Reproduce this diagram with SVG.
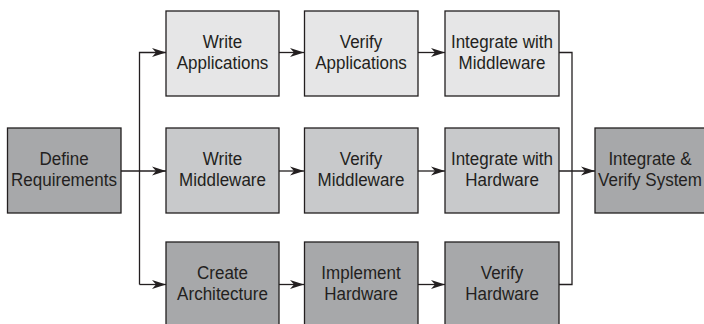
<svg xmlns="http://www.w3.org/2000/svg" width="704" height="324" viewBox="0 0 704 324">
<defs>
<style>
.box{stroke:#231f20;stroke-width:1.3}
.l1{fill:#e6e6e7}.l2{fill:#c8c9cb}.l3{fill:#a7a8aa}
text{font-family:"Liberation Sans",Arial,sans-serif;font-size:18.5px;fill:#231f20;text-anchor:middle}
.c{fill:none;stroke:#231f20;stroke-width:1.3}
</style>
<marker id="ah" markerWidth="15" markerHeight="11" refX="14" refY="5.5" orient="auto" markerUnits="userSpaceOnUse">
<path d="M0,1 L14,5.5 L0,10 L4,5.5 Z" fill="#231f20"/>
</marker>
</defs>
<rect width="704" height="324" fill="#fff"/>
<g id="connectors">
<path class="c" d="M121,171 H166" marker-end="url(#ah)"/>
<path class="c" d="M139.5,284.5 V52.5 H166" marker-end="url(#ah)"/>
<path class="c" d="M139.5,284.5 H166" marker-end="url(#ah)"/>
<path class="c" d="M279,52.5 H304" marker-end="url(#ah)"/>
<path class="c" d="M418,52.5 H445" marker-end="url(#ah)"/>
<path class="c" d="M279,171 H304" marker-end="url(#ah)"/>
<path class="c" d="M418,171 H445" marker-end="url(#ah)"/>
<path class="c" d="M279,284.5 H304" marker-end="url(#ah)"/>
<path class="c" d="M418,284.5 H445" marker-end="url(#ah)"/>
<path class="c" d="M559,52.5 H572 V284.5 H559"/>
<path class="c" d="M559,171 H595" marker-end="url(#ah)"/>
</g>
<g id="define"><rect class="box l3" x="7.5" y="128" width="113.5" height="85"/><g transform="translate(64 0) scale(0.92 1)"><text x="0" y="165">Define</text><text x="0" y="186">Requirements</text></g></g>
<g id="write-app"><rect class="box l1" x="166" y="11" width="113" height="85"/><g transform="translate(222.5 0) scale(0.92 1)"><text x="0" y="48">Write</text><text x="0" y="69">Applications</text></g></g>
<g id="verify-app"><rect class="box l1" x="304.5" y="11" width="113.5" height="85"/><g transform="translate(361 0) scale(0.92 1)"><text x="0" y="48">Verify</text><text x="0" y="69">Applications</text></g></g>
<g id="int-mid"><rect class="box l1" x="445" y="11" width="114" height="85"/><g transform="translate(502 0) scale(0.92 1)"><text x="0" y="48">Integrate with</text><text x="0" y="69">Middleware</text></g></g>
<g id="write-mid"><rect class="box l2" x="166" y="128" width="113" height="85"/><g transform="translate(222.5 0) scale(0.92 1)"><text x="0" y="165">Write</text><text x="0" y="186">Middleware</text></g></g>
<g id="verify-mid"><rect class="box l2" x="304.5" y="128" width="113.5" height="85"/><g transform="translate(361 0) scale(0.92 1)"><text x="0" y="165">Verify</text><text x="0" y="186">Middleware</text></g></g>
<g id="int-hw"><rect class="box l2" x="445" y="128" width="114" height="85"/><g transform="translate(502 0) scale(0.92 1)"><text x="0" y="165">Integrate with</text><text x="0" y="186">Hardware</text></g></g>
<g id="create-arch"><rect class="box l3" x="166" y="242" width="113" height="85"/><g transform="translate(222.5 0) scale(0.92 1)"><text x="0" y="279">Create</text><text x="0" y="300">Architecture</text></g></g>
<g id="impl-hw"><rect class="box l3" x="304.5" y="242" width="113.5" height="85"/><g transform="translate(361 0) scale(0.92 1)"><text x="0" y="279">Implement</text><text x="0" y="300">Hardware</text></g></g>
<g id="verify-hw"><rect class="box l3" x="445" y="242" width="114" height="85"/><g transform="translate(502 0) scale(0.92 1)"><text x="0" y="279">Verify</text><text x="0" y="300">Hardware</text></g></g>
<g id="int-sys"><rect class="box l3" x="595" y="128" width="114" height="85"/><g transform="translate(650 0) scale(0.92 1)"><text x="0" y="165">Integrate &amp;</text><text x="0" y="186">Verify System</text></g></g>
</svg>
